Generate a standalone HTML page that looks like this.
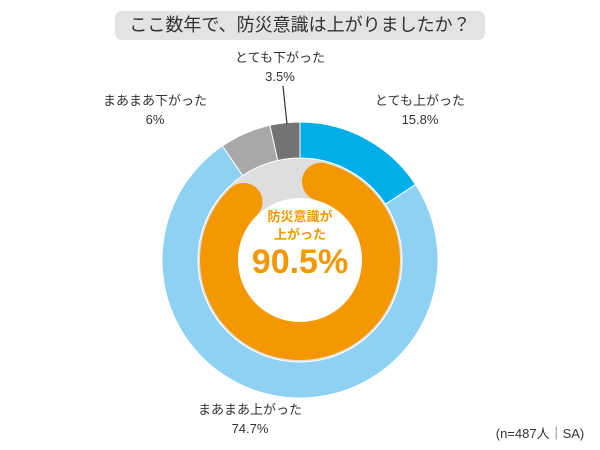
<!DOCTYPE html>
<html><head><meta charset="utf-8"><style>
body{margin:0;background:#fff;font-family:"Liberation Sans","Noto Sans CJK JP",sans-serif;}
#wrap{position:relative;width:600px;height:450px;overflow:hidden;}
.lbl{position:absolute;font-size:13px;color:#333;text-align:center;line-height:19px;white-space:nowrap;}
</style></head><body>
<div id="wrap">
<div style="position:absolute;left:115px;top:11px;width:370px;height:29px;background:#e3e3e3;border-radius:7px;text-align:center;font-size:18px;line-height:29px;color:#333;">ここ数年で、防災意識は上がりましたか？</div>
<svg id="svg" width="600" height="450" style="position:absolute;left:0;top:0"></svg>
<div class="lbl" style="left:225px;top:48px;width:110px;">とても下がった<br>3.5%</div>
<div class="lbl" style="left:100px;top:91px;width:110px;">まあまあ下がった<br>6%</div>
<div class="lbl" style="left:365px;top:91px;width:110px;">とても上がった<br>15.8%</div>
<div class="lbl" style="left:195px;top:400px;width:110px;">まあまあ上がった<br>74.7%</div>
<div class="lbl" style="left:240px;top:208px;width:120px;color:#f39800;font-weight:bold;font-size:13px;line-height:18px;">防災意識が<br>上がった</div>
<div class="lbl" style="left:220px;top:242px;width:160px;color:#f39800;font-weight:bold;font-size:34px;line-height:40px;">90.5%</div>
<div class="lbl" style="left:485px;top:424px;width:110px;font-size:13px;">(n=487人｜SA)</div>
</div>
<script>
const categories=["とても上がった","まあまあ上がった","まあまあ下がった","とても下がった"];
const values=[15.8,74.7,6,3.5];
const colors=["#00aee8","#8fd1f3","#a8a8a8","#737373"];
const upTotal=[90.5];
const svg=document.getElementById('svg');
const NS="http://www.w3.org/2000/svg";
const cx=300,cy=260,R=138,r=102;
function pt(a,rad){const t=(a-90)*Math.PI/180;return [cx+rad*Math.cos(t),cy+rad*Math.sin(t)];}
const bg=document.createElementNS(NS,'circle');
bg.setAttribute('cx',cx);bg.setAttribute('cy',cy);bg.setAttribute('r',r+1);bg.setAttribute('fill','#dedede');


svg.appendChild(bg);
const total=values.reduce((a,b)=>a+b,0);
let acc=0;
values.forEach((v,i)=>{
 const a0=acc/total*360,a1=(acc+v)/total*360;acc+=v;
 const [x0,y0]=pt(a0,R),[x1,y1]=pt(a1,R),[x2,y2]=pt(a1,r),[x3,y3]=pt(a0,r);
 const lg=(a1-a0)>180?1:0;
 const p=document.createElementNS(NS,'path');
 p.setAttribute('d',`M${x0},${y0}A${R},${R} 0 ${lg} 1 ${x1},${y1}L${x2},${y2}A${r},${r} 0 ${lg} 0 ${x3},${y3}Z`);
 p.setAttribute('fill',colors[i]);p.setAttribute('stroke','#fff');p.setAttribute('stroke-width','1');
 
 
 svg.appendChild(p);
});
// inner orange arc
const ra=81,start=15,span=upTotal[0]/100*360-25;
const s=pt(start,ra),e=pt(start+span,ra);
const arc=document.createElementNS(NS,'path');
arc.setAttribute('d',`M${s[0]},${s[1]}A${ra},${ra} 0 ${span>180?1:0} 1 ${e[0]},${e[1]}`);
arc.setAttribute('fill','none');arc.setAttribute('stroke','#f39800');arc.setAttribute('stroke-width','38');arc.setAttribute('stroke-linecap','round');


svg.appendChild(arc);
const wc=document.createElementNS(NS,'circle');
wc.setAttribute('cx',cx);wc.setAttribute('cy',cy);wc.setAttribute('r',62);wc.setAttribute('fill','#fff');


svg.appendChild(wc);
const ln=document.createElementNS(NS,'line');
ln.setAttribute('x1',283);ln.setAttribute('y1',86);ln.setAttribute('x2',287);ln.setAttribute('y2',124);ln.setAttribute('stroke','#333');ln.setAttribute('stroke-width','1.2');


svg.appendChild(ln);
</script>
</body></html>
